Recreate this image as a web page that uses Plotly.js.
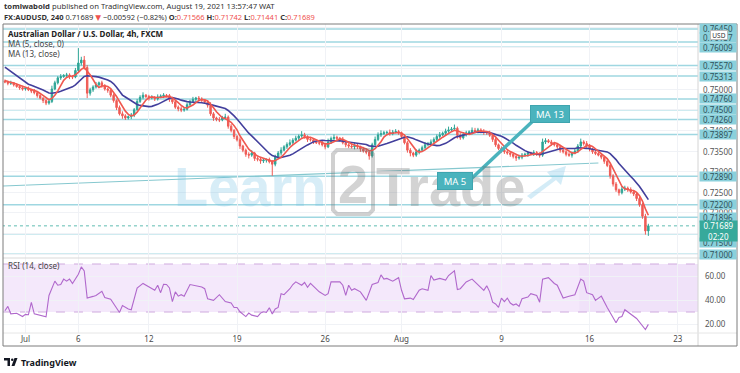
<!DOCTYPE html>
<html><head><meta charset="utf-8">
<script src="https://cdn.plot.ly/plotly-3.0.1.min.js"></script>
<style>html,body{margin:0;padding:0;background:#fff;}#chart{width:740px;height:373px;}</style>
</head><body><div id="chart"></div>
<script>
// ---------------- DATA ----------------
// 4h candles, x = candle index (0 = Jul 1 00:00), weekends skipped
const firstIndex = -7;
const firstOpen = 0.7519;
// closes before the visible window (only used to seed the moving averages)
const warmupCloses = [0.7580,0.7578,0.7575,0.7572,0.7576,0.7570,0.7568,0.7565,0.7530,0.7522,0.7518,0.7516];
const closes = [
0.7517,0.7514,0.7515,0.7510,0.7506,0.7503,0.7500,
0.7502,0.7498,0.7495,0.7491,0.7484,0.7478,0.7472,0.7466,0.7470,0.7500,
0.7515,0.7527,0.7530,0.7533,0.7534,0.7530,0.7529,0.7545,0.7563,0.7570,
0.7552,0.7490,0.7498,0.7505,0.7510,0.7515,0.7508,0.7500,0.7497,0.7485,
0.7472,0.7455,0.7440,0.7435,0.7430,0.7433,0.7437,0.7450,0.7470,0.7480,
0.7485,0.7482,0.7478,0.7480,0.7476,0.7481,0.7483,0.7485,0.7484,0.7475,
0.7469,0.7456,0.7452,0.7449,0.7451,0.7462,0.7470,0.7475,0.7478,0.7476,
0.7473,0.7468,0.7461,0.7440,0.7430,0.7426,0.7425,0.7430,0.7432,0.7410,
0.7400,0.7385,0.7377,0.7362,0.7352,0.7342,0.7340,0.7345,0.7332,0.7330,
0.7326,0.7328,0.7329,0.7324,0.7318,0.7335,0.7345,0.7352,0.7360,0.7366,
0.7370,0.7376,0.7381,0.7386,0.7389,0.7385,0.7378,0.7377,0.7372,0.7370,
0.7369,0.7365,0.7360,0.7372,0.7380,0.7383,0.7381,0.7378,0.7370,0.7365,
0.7362,0.7360,0.7363,0.7360,0.7355,0.7350,0.7347,0.7338,0.7365,0.7378,
0.7389,0.7392,0.7394,0.7395,0.7392,0.7396,0.7397,0.7394,0.7385,0.7370,
0.7352,0.7345,0.7340,0.7348,0.7352,0.7358,0.7365,0.7368,0.7372,0.7378,
0.7385,0.7389,0.7393,0.7398,0.7401,0.7403,0.7405,0.7388,0.7382,0.7390,
0.7394,0.7396,0.7400,0.7398,0.7401,0.7397,0.7395,0.7394,0.7388,0.7378,
0.7365,0.7356,0.7352,0.7348,0.7345,0.7342,0.7337,0.7333,0.7335,0.7340,
0.7342,0.7345,0.7343,0.7346,0.7342,0.7340,0.7372,0.7375,0.7372,0.7368,
0.7365,0.7360,0.7352,0.7348,0.7342,0.7340,0.7345,0.7350,0.7362,0.7372,
0.7368,0.7362,0.7355,0.7348,0.7344,0.7340,0.7335,0.7325,0.7315,0.7290,
0.7270,0.7256,0.7249,0.7258,0.7260,0.7257,0.7251,0.7246,0.7235,0.7220,
0.7192,0.71566,0.71689];
// wick lengths in pips (0.0001) above / below the candle body
const wickUp = [
4,3,5,2,4,3,5,
3,4,2,5,3,4,2,3,6,8,
5,4,6,3,5,4,3,6,36,8,
10,6,5,4,7,3,5,4,3,5,
4,3,5,6,4,3,5,4,6,5,
7,3,4,5,3,6,4,5,3,4,
5,3,4,6,3,5,4,6,3,5,
4,3,5,7,4,3,6,5,8,4,
5,3,4,6,3,4,5,7,3,4,
6,4,3,5,4,6,5,7,4,5,
8,5,6,4,9,5,3,6,4,5,
4,6,5,8,5,7,4,3,6,5,
4,5,7,4,3,5,6,4,5,7,
6,8,5,4,7,5,6,4,3,5,
4,5,3,6,4,5,7,4,6,5,
5,7,4,6,8,5,9,4,5,6,
5,4,7,6,5,4,6,3,5,4,
4,3,5,6,4,5,3,4,6,5,
4,5,3,6,4,5,8,6,4,5,
4,3,5,4,6,5,4,7,5,8,
4,6,5,3,4,5,4,3,6,5,
4,5,3,7,6,4,5,3,4,5,
4,6,5];
const wickDown = [
3,5,4,4,3,5,4,
4,3,5,4,5,3,6,5,4,4,
3,4,5,3,4,6,5,3,4,6,
5,12,6,5,4,6,5,4,6,5,
5,6,4,7,5,4,6,5,3,4,
5,4,6,3,5,4,3,5,4,6,
5,4,6,5,4,3,5,4,6,3,
5,4,6,5,7,4,5,3,4,6,
5,6,4,7,5,6,8,4,6,5,
7,5,6,4,28,5,4,6,3,5,
4,5,3,6,4,5,6,4,5,3,
5,4,6,3,5,4,6,5,4,6,
5,4,6,5,7,4,5,9,4,5,
4,5,3,6,5,4,3,5,6,4,
6,8,5,4,6,3,5,4,5,3,
4,5,3,6,4,5,3,8,5,4,
5,4,6,3,5,4,6,5,4,6,
5,4,6,5,4,6,5,7,4,5,
4,6,3,5,4,6,4,5,3,5,
4,5,6,4,5,4,6,3,5,4,
5,4,6,5,4,3,5,6,4,7,
6,5,7,4,5,6,4,5,6,5,
6,9,12];
// RSI (14)
const rsiIdx = [
-7,-6,-5,-3,-1,0,1,2,3,4,
6,7,8,10,11,12,13,14,15,16,
18,19,20,21,23,24,26,27,29,31,
32,33,35,36,38,40,42,44,45,46,
47,48,49,50,51,52,53,54,56,59,
60,61,62,64,66,68,70,71,72,73,
75,76,77,79,80,81,82,83,84,85,
86,87,88,90,91,92,94,95,96,97,
99,100,102,103,104,106,107,108,109,110,
111,112,114,116,118,120,121,122,123,125,
127,128,129,131,132,134,135,137,138,139,
141,143,144,146,147,148,150,152,153,155,
156,157,158,159,160,161,162,163,164,165,
166,167,168,169,171,172,174,175,176,178,
180,181,183,185,187,189,190,191,193,194,
196,198,201,202,203,204,206,208,211,212];
const rsiVal = [
31,34.7,28.5,28.9,26.2,28,27.7,38,28.5,28,
27,26,43.8,55.7,52.3,52.9,57.4,55.7,57.4,53.8,
61.4,67.6,64.3,41.6,43,43.8,47.2,42.1,40.7,33,
29.6,35.3,32.5,31.9,50,53.8,50.6,48.1,52.3,46.1,
53,52.9,50,38.7,46.8,43.2,44.4,43.2,52.9,51.5,
50.9,49.4,41,39.7,44.4,38.7,37.5,33.8,33.8,30.2,
26.2,29.1,27.4,26.2,29.1,30.2,29.7,33.6,28.4,32.5,
33.8,45.3,44.4,49.4,52.9,55.1,52.3,54.6,50.6,53.8,
49.4,46.8,43.8,45.3,55.1,55.1,55.1,52.3,43.8,52.3,
48.1,49.4,46.8,39.7,52.9,54.6,60.9,57.4,58,55.7,
58.6,48.1,41,41.6,40.4,48.1,49.4,48.1,60.4,56.6,
58,56.6,60.4,64.3,48.7,49.4,55.1,57.4,55.1,50.9,
48.1,51.8,46.8,38.2,36.7,33.8,41.6,38.7,41.6,37.5,
35.8,36.7,34.7,41,42.4,45.3,43.8,38.2,57.4,58.6,
53.8,52.3,41.6,43.2,44.4,57.4,55.7,46.1,44.4,39.7,
43.2,33.8,21.1,25.4,26.2,31.9,28.4,24.6,15.4,19.7];
const tickIdx  = [0,18,42,72,102,128,162,192,222];
const tickText = ['Jul','6','12','19','26','Aug','9','16','23'];
// horizontal levels drawn on the chart
const levels     = [0.76450,0.76137,0.76009,0.75570,0.75313,0.74760,0.74500,0.74260,0.73897,0.72890,0.72200,0.71896,0.71500,0.71000];
const levelStart = [-8,-8,-8,-8,-8,-8,-8,-8,-8,-8,-8,72,-8,-8];
const plainPrices = [0.75000,0.74000,0.73500,0.73000,0.72500,0.72000];
const trendFrom = [-7.6, 0.72653];
const trendTo   = [195, 0.73210];
const lastPrice = 0.71689;
const rsiBand = [30, 70];

// ---------------- BUILD ----------------
const W = 740, H = 373;
const xp = v => v / W, yp = v => 1 - v / H;

const xs = closes.map((_, k) => firstIndex + k);
const opens = closes.map((c, k) => k === 0 ? firstOpen : closes[k - 1]);
const highs = closes.map((c, k) => Math.max(opens[k], c) + wickUp[k] / 1e4);
const lows = closes.map((c, k) => Math.min(opens[k], c) - wickDown[k] / 1e4);
const allCloses = warmupCloses.concat(closes);
const off = warmupCloses.length;
function sma(n) {
  return closes.map((_, k) => { let s = 0; for (let j = 0; j < n; j++) s += allCloses[off + k - j]; return s / n; });
}
const ma5 = sma(5), ma13 = sma(13);

const RED = '#ef5b55', GREEN = '#2ea596';
const traces = [
  {type: 'candlestick', x: xs, open: opens, high: highs, low: lows, close: closes,
   xaxis: 'x', yaxis: 'y', whiskerwidth: 0,
   increasing: {line: {color: GREEN, width: 1}, fillcolor: GREEN},
   decreasing: {line: {color: RED, width: 1}, fillcolor: RED}, hoverinfo: 'skip'},
  {type: 'scatter', mode: 'lines', x: xs, y: ma13, xaxis: 'x', yaxis: 'y',
   line: {color: '#423f9c', width: 1.6}, hoverinfo: 'skip'},
  {type: 'scatter', mode: 'lines', x: xs, y: ma5, xaxis: 'x', yaxis: 'y',
   line: {color: '#f0584f', width: 1.6}, hoverinfo: 'skip'},
  {type: 'scatter', mode: 'lines', x: rsiIdx, y: rsiVal, xaxis: 'x', yaxis: 'y2',
   line: {color: '#b068cc', width: 1.1}, hoverinfo: 'skip'}
];

const shapes = [];
// RSI band
shapes.push({type: 'rect', xref: 'x', yref: 'y2', x0: -8, x1: 229, y0: rsiBand[0], y1: rsiBand[1],
  fillcolor: '#f4e8fb', line: {width: 0}, layer: 'below'});
shapes.push({type: 'rect', xref: 'x', yref: 'y2', x0: 188.5, x1: 229, y0: rsiBand[0], y1: rsiBand[1],
  fillcolor: 'rgba(200,160,230,0.08)', line: {width: 0}, layer: 'below'});
rsiBand.forEach(v => shapes.push({type: 'line', xref: 'x', yref: 'y2', x0: -8, x1: 229, y0: v, y1: v,
  line: {color: '#cfaade', width: 1, dash: 'dash'}, layer: 'below'}));
// level lines
levels.forEach((v, k) => shapes.push({type: 'line', xref: 'x', yref: 'y', x0: levelStart[k], x1: 229, y0: v, y1: v,
  line: {color: '#9fd7e1', width: 1.5}, layer: 'below'}));
// trend line
shapes.push({type: 'line', xref: 'x', yref: 'y', x0: trendFrom[0], y0: trendFrom[1], x1: trendTo[0], y1: trendTo[1],
  line: {color: '#86c8cf', width: 1.2}, layer: 'below'});
// last price dotted
shapes.push({type: 'line', xref: 'x', yref: 'y', x0: -8, x1: 229, y0: lastPrice, y1: lastPrice,
  line: {color: '#5fbcb2', width: 1, dash: 'dot'}, layer: 'below'});
// frame + separators
const pl = (x0, y0, x1, y1, color, w) => shapes.push({type: 'line', xref: 'paper', yref: 'paper',
  x0: xp(x0), y0: yp(y0), x1: xp(x1), y1: yp(y1), line: {color: color, width: w}, layer: 'above'});
pl(698, 24, 698, 346, '#d4d4d4', 1);
pl(3, 258, 737, 258, '#d9d9d9', 1);
pl(3, 333, 737, 333, '#e6e6e6', 1);
shapes.push({type: 'rect', xref: 'paper', yref: 'paper', x0: xp(3), y0: yp(346), x1: xp(737), y1: yp(24),
  line: {color: '#7d7d7d', width: 1}, fillcolor: 'rgba(0,0,0,0)', layer: 'above'});
// watermark "2" box and arrow
function pathPx(pts) { return 'M ' + pts.map(p => xp(p[0]).toFixed(5) + ',' + yp(p[1]).toFixed(5)).join(' L ') + ' Z'; }
shapes.push({type: 'path', xref: 'paper', yref: 'paper', path: pathPx([[337,150],[369,150],[373,154],[373,210],[369,214],[337,214],[333,210],[333,154]]),
  line: {color: 'rgba(110,110,110,0.32)', width: 4}, fillcolor: 'rgba(0,0,0,0)', layer: 'above'});
shapes.push({type: 'path', xref: 'paper', yref: 'paper', path: pathPx([[527,196],[552,178],[547,172],[566,166],[561,185],[556,180],[531,199]]),
  line: {width: 0}, fillcolor: 'rgba(120,195,230,0.32)', layer: 'above'});
// callout connector
shapes.push({type: 'line', xref: 'x', yref: 'y', x0: 152.0, y0: 0.72847, x1: 173.8, y1: 0.74298,
  line: {color: '#4ab3bd', width: 3.5}, layer: 'above'});
// TradingView logo glyph
shapes.push({type: 'rect', xref: 'paper', yref: 'paper', x0: xp(4), x1: xp(10), y0: yp(360.5), y1: yp(358), fillcolor: '#131722', line: {width: 0}});
shapes.push({type: 'rect', xref: 'paper', yref: 'paper', x0: xp(7.5), x1: xp(10), y0: yp(366), y1: yp(358), fillcolor: '#131722', line: {width: 0}});
shapes.push({type: 'circle', xref: 'paper', yref: 'paper', x0: xp(11), x1: xp(13.5), y0: yp(361), y1: yp(358.5), fillcolor: '#131722', line: {width: 0}});
shapes.push({type: 'path', xref: 'paper', yref: 'paper', path: pathPx([[14.5,358],[17.5,358],[14.5,366],[11.5,366]]), fillcolor: '#131722', line: {width: 0}});

const annotations = [];
const FONT = 'Noto Sans, DejaVu Sans, sans-serif';
const WM = 'Liberation Sans, Arial, sans-serif';
const txt = (x, y, t, size, color, extra) => annotations.push(Object.assign({xref: 'paper', yref: 'paper',
  x: xp(x), y: yp(y), text: t, showarrow: false, xanchor: 'left', yanchor: 'middle',
  font: {family: FONT, size: size, color: color}}, extra || {}));
const R = s => '<span style="color:#ef5350">' + s + '</span>';
txt(2, 6, '<b>tomiwabold</b> published on TradingView.com, August 19, 2021 13:57:47 WAT', 7.7, '#333');
txt(2, 17, '<b>FX:AUDUSD, 240</b> 0.71689 ' + R('▼') + ' −0.00592 (−0.82%) <b>O:</b>' + R('0.71566') +
  ' <b>H:</b>' + R('0.71742') + ' <b>L:</b>' + R('0.71441') + ' <b>C:</b>' + R('0.71689'), 7.5, '#333');
txt(6, 33, '<b>Australian Dollar / U.S. Dollar, 4h, FXCM</b>', 8, '#222');
txt(6, 44, 'MA (5, close, 0)', 8, '#444');
txt(6, 54, 'MA (13, close)', 8, '#444');
txt(6, 265, 'RSI (14, close)', 8, '#444');
// watermark
txt(329, 186, '<b>Learn</b>', 56, '', {xanchor: 'right', font: {family: WM, size: 56, color: 'rgba(110,190,228,0.28)'}});
txt(353, 184, '<b>2</b>', 54, '', {xanchor: 'center', font: {family: WM, size: 54, color: 'rgba(110,110,110,0.30)'}});
txt(374, 186, '<b>Trade</b>', 56, '', {font: {family: WM, size: 56, color: 'rgba(110,110,110,0.30)'}});
// plain price labels
plainPrices.forEach(v => annotations.push({xref: 'paper', yref: 'y', x: xp(718), y: v, text: v.toFixed(5),
  showarrow: false, xanchor: 'center', yanchor: 'middle', font: {family: FONT, size: 8, color: '#555'}}));
// cyan level labels
const shift = {0.76450: 1, 0.76137: 5, 0.71500: -9};
levels.forEach(v => annotations.push({xref: 'paper', yref: 'y', x: xp(718), y: v, yshift: shift[v] || 0,
  text: v.toFixed(5), showarrow: false, xanchor: 'center', yanchor: 'middle', width: 36, height: 9,
  bgcolor: '#8ad0db', borderpad: 0, font: {family: FONT, size: 8, color: '#30525a'}}));
// USD badge
annotations.push({xref: 'paper', yref: 'paper', x: xp(719), y: yp(35), text: 'USD', showarrow: false,
  xanchor: 'center', yanchor: 'middle', width: 16, height: 8, bgcolor: '#fff', bordercolor: '#bbb', borderwidth: 1,
  borderpad: 0, font: {family: FONT, size: 6.5, color: '#333'}});
// last price label
annotations.push({xref: 'paper', yref: 'y', x: xp(718), y: lastPrice, yshift: -5, text: '0.71689<br>02:20',
  showarrow: false, xanchor: 'center', yanchor: 'middle', width: 37, height: 20, bgcolor: '#37a99b', borderpad: 0,
  font: {family: FONT, size: 8, color: '#fff'}});
// callouts
annotations.push({xref: 'x', yref: 'y', x: 178.6, y: 0.74395, text: 'MA 13', showarrow: false, width: 38, height: 16,
  bgcolor: '#4ab3bd', bordercolor: '#3ea5af', borderwidth: 1, borderpad: 0, font: {family: FONT, size: 9.5, color: '#fff'}});
annotations.push({xref: 'x', yref: 'y', x: 146.3, y: 0.72774, text: 'MA 5', showarrow: false, width: 34, height: 16,
  bgcolor: '#4ab3bd', bordercolor: '#3ea5af', borderwidth: 1, borderpad: 0, font: {family: FONT, size: 9.5, color: '#fff'}});
// TradingView word mark
txt(19, 362, '<b>TradingView</b>', 9, '#131722');

const layout = {
  width: W, height: H, margin: {l: 0, r: 0, t: 0, b: 0}, paper_bgcolor: '#fff', plot_bgcolor: '#fff',
  showlegend: false, hovermode: false,
  xaxis: {domain: [xp(3), xp(698)], range: [-7.65, 228.9], anchor: 'y2', tickvals: tickIdx, ticktext: tickText,
    showgrid: true, gridcolor: '#f0f2f6', zeroline: false, showline: false, ticks: '',
    tickfont: {family: FONT, size: 8, color: '#4a4a4a'}, rangeslider: {visible: false}, fixedrange: true},
  yaxis: {domain: [yp(258), yp(24)], range: [0.70911, 0.76573], side: 'right', anchor: 'x',
    showticklabels: false, showgrid: true, gridcolor: '#f0f2f6', tick0: 0.70, dtick: 0.005, zeroline: false, showline: false},
  yaxis2: {domain: [yp(333), yp(258)], range: [12.5, 75], side: 'right', anchor: 'x',
    tickvals: [20, 40, 60], ticktext: ['20.00', '40.00', '60.00'], ticklabelstandoff: 6,
    showgrid: true, gridcolor: '#f0f2f6', zeroline: false, showline: false, ticks: '',
    tickfont: {family: FONT, size: 8, color: '#555'}},
  shapes: shapes, annotations: annotations
};
Plotly.newPlot('chart', traces, layout, {staticPlot: true, displayModeBar: false});
</script>
</body></html>
